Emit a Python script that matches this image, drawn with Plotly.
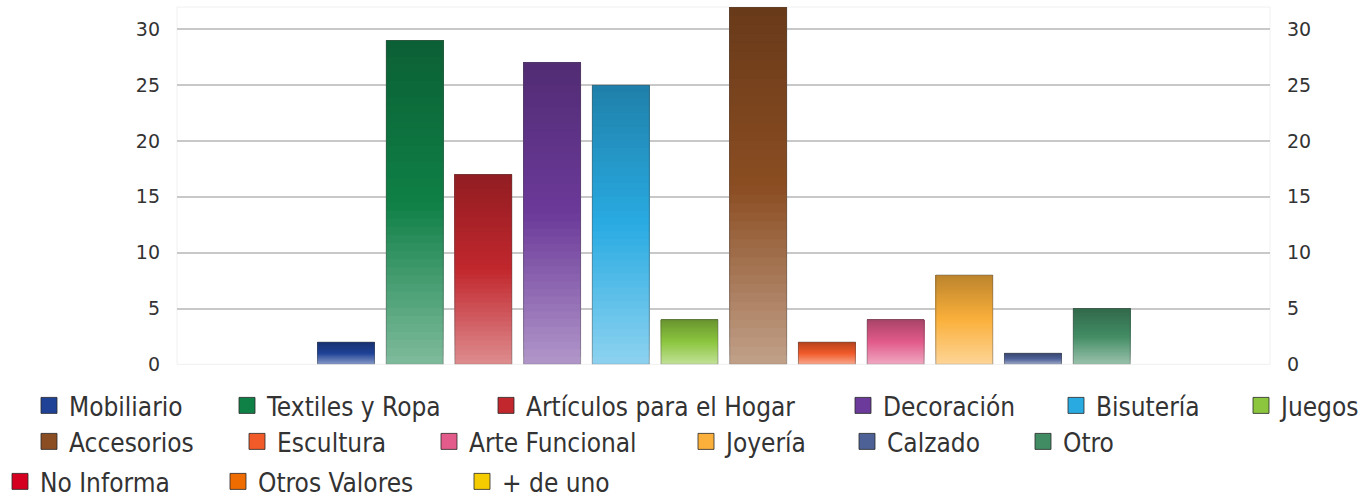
import plotly.graph_objects as go

# categories in legend order; bars sit in the slots after two empty ones
categories = [
    "Mobiliario", "Textiles y Ropa", "Artículos para el Hogar", "Decoración",
    "Bisutería", "Juegos", "Accesorios", "Escultura", "Arte Funcional",
    "Joyería", "Calzado", "Otro", "No Informa", "Otros Valores", "+ de uno",
]
values = [2, 29, 17, 27, 25, 4, 32, 2, 4, 8, 1, 5, 0, 0, 0]
colors = [
    "#1F4196", "#0F8046", "#C1272D", "#6C3A9A", "#29ABE2", "#8CC63F",
    "#8B4D22", "#F15A29", "#E25B8B", "#FBB03B", "#4D6197", "#428C64",
    "#D50020", "#EF6C00", "#F5CC00",
]
y_ticks = [0, 5, 10, 15, 20, 25, 30]

# legend entry placement (container pixels): left x of each entry, row of each entry
legend_x = [29, 227, 486, 843, 1056, 1241,
            29, 237, 429, 686, 847, 1023,
            0, 218, 462]
legend_row = [0] * 6 + [1] * 6 + [2] * 3
row_top = [382, 418, 458]

N_STEPS = 40
W, H = 1364, 493


def _rgb(h):
    return [int(h[i:i + 2], 16) for i in (1, 3, 5)]


def _shade(h, t):
    """t=0 bottom (light), 0.5 base colour, 1 top (dark)."""
    r, g, b = _rgb(h)
    if t < 0.5:
        k = 0.47 * (1 - t / 0.5)
        c = [v + (255 - v) * k for v in (r, g, b)]
    else:
        k = 1 - 0.25 * (t - 0.5) / 0.5
        c = [v * k for v in (r, g, b)]
    return "rgb({},{},{})".format(*[int(round(v)) for v in c])


fig = go.Figure()

# gradient: each step starts higher up and runs to the top of the bar
for k in range(N_STEPS):
    t = (k + 0.5) / N_STEPS
    fig.add_trace(go.Bar(
        x=categories,
        y=[v * (1 - k / N_STEPS) for v in values],
        base=[v * k / N_STEPS for v in values],
        marker=dict(color=[_shade(c, t) for c in colors], line=dict(width=0)),
        width=0.83, showlegend=False, hoverinfo="skip",
    ))

# outline (none on empty bars)
fig.add_trace(go.Bar(
    x=categories, y=values, width=0.83, showlegend=False,
    marker=dict(color="rgba(0,0,0,0)",
                line=dict(color=["rgba(80,80,80,0.45)" if v else "rgba(0,0,0,0)" for v in values],
                          width=1)),
))

# invisible trace so the right axis draws
fig.add_trace(go.Scatter(x=[categories[0]], y=[0], yaxis="y2", mode="markers",
                         marker=dict(opacity=0), showlegend=False, hoverinfo="skip"))

# one small legend per entry so the spacing follows the text widths
legend_font = dict(family="DejaVu Sans Condensed, DejaVu Sans", size=26, color="#333333")
legends = {}
for i, (name, c) in enumerate(zip(categories, colors)):
    lid = "legend" if i == 0 else f"legend{i + 1}"
    fig.add_trace(go.Scatter(
        x=[None], y=[None], mode="markers", name=name, legend=lid,
        marker=dict(symbol="square", size=16, color=c,
                    line=dict(color="rgba(40,40,40,0.8)", width=1)),
    ))
    legends[lid] = dict(
        orientation="h", xref="container", yref="container",
        x=legend_x[i] / W, y=1 - row_top[legend_row[i]] / H,
        xanchor="left", yanchor="top", font=legend_font,
        itemsizing="trace", bgcolor="rgba(0,0,0,0)",
    )

fig.update_layout(
    width=W, height=H,
    barmode="overlay",
    paper_bgcolor="white", plot_bgcolor="white",
    font=dict(family="DejaVu Sans, sans-serif", size=19, color="#333333"),
    margin=dict(l=177, r=94, t=7, b=127),
    xaxis=dict(
        categoryorder="array", categoryarray=categories,
        range=[-2.46, 13.45], showticklabels=False, showgrid=False,
        zeroline=False, showline=False, ticks="",
    ),
    yaxis=dict(
        range=[0, 32], tickvals=y_ticks, showgrid=True,
        gridcolor="#c8c8c8", gridwidth=2, zeroline=False,
        ticks="", ticklabelstandoff=16,
    ),
    yaxis2=dict(
        range=[0, 32], tickvals=y_ticks, overlaying="y", side="right",
        showgrid=False, zeroline=False, ticks="", ticklabelstandoff=16,
    ),
    shapes=[dict(type="rect", xref="paper", yref="paper", x0=0, x1=1, y0=0, y1=1,
                 line=dict(color="#f0f0f0", width=1), layer="below")],
    **legends,
)

fig.write_html("out.html", config={"displayModeBar": False},
               post_script="document.body.style.margin='0';")
